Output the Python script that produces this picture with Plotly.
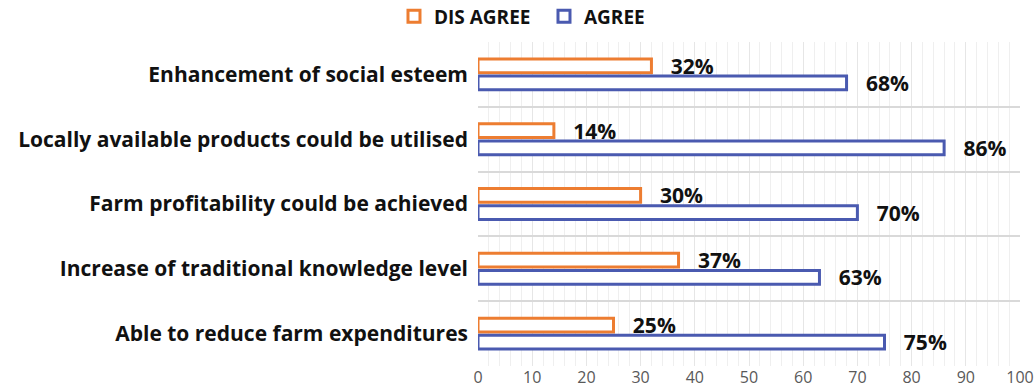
import plotly.graph_objects as go

categories = [
    "Enhancement of social esteem",
    "Locally available products could be utilised",
    "Farm profitability could be achieved",
    "Increase of traditional knowledge level",
    "Able to reduce farm expenditures",
]
disagree = [32, 14, 30, 37, 25]
agree = [68, 86, 70, 63, 75]
x_ticks = [0, 10, 20, 30, 40, 50, 60, 70, 80, 90, 100]

ORANGE = "#ED7D31"
BLUE = "#4A5AB0"
FONT = "Open Sans"

label_font = dict(size=21, color="#111111", family=FONT, weight="bold")

fig = go.Figure()
fig.add_trace(go.Bar(
    y=categories, x=disagree, orientation="h", name="DIS AGREE",
    marker=dict(color="white", line=dict(color=ORANGE, width=3)),
    text=[f"{v}%" for v in disagree], texttemplate="   %{text}", textposition="outside",
    textfont=label_font, constraintext="none", cliponaxis=False,
))
fig.add_trace(go.Bar(
    y=categories, x=agree, orientation="h", name="AGREE",
    marker=dict(color="white", line=dict(color=BLUE, width=3)),
    text=[f"{v}%" for v in agree], texttemplate="   %{text}", textposition="outside",
    textfont=label_font, constraintext="none", cliponaxis=False,
))

fig.update_layout(
    width=1034, height=388,
    margin=dict(l=478, r=14, t=42, b=22, autoexpand=False),
    paper_bgcolor="white", plot_bgcolor="white",
    barmode="group", bargap=0.47, bargroupgap=0.2,
    font=dict(family=FONT, color="#111111"),
    legend=dict(orientation="h", x=-0.155, xanchor="left", y=1.02, yanchor="bottom",
                font=dict(size=19, family=FONT, weight="bold", color="#111111"),
                entrywidth=105, entrywidthmode="pixels",
                bgcolor="rgba(0,0,0,0)"),
    uniformtext=dict(mode=False),
)
fig.update_xaxes(
    range=[0, 100], tickvals=x_ticks, showgrid=True, gridcolor="#e6e6e6", gridwidth=1,
    minor=dict(dtick=2, showgrid=True, gridcolor="#efefef"),
    tickfont=dict(size=16, color="#595959", family=FONT),
    zeroline=False, showline=False, ticks="",
)
fig.update_yaxes(
    autorange="reversed", tickson="boundaries", showgrid=True, gridcolor="#d9d9d9",
    gridwidth=1.5, tickfont=dict(size=21, color="#111111", family=FONT, weight="bold"),
    ticks="", showline=False, ticklabelstandoff=9,
)

fig.write_html("out.html", config={"displayModeBar": False},
               post_script="document.body.style.margin='0';")
